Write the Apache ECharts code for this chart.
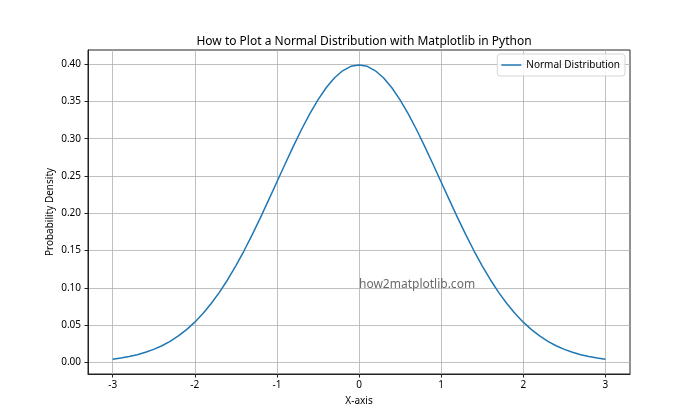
<!DOCTYPE html>
<html>
<head>
<meta charset="utf-8">
<script src="https://cdn.jsdelivr.net/npm/echarts@6/dist/echarts.min.js"></script>
<style>html,body{margin:0;padding:0;background:#fff}#c{width:700px;height:420px}</style>
</head>
<body>
<div id="c"></div>
<script>
var xValues = [-3.0,-2.9,-2.8,-2.7,-2.6,-2.5,-2.4,-2.3,-2.2,-2.1,-2.0,-1.9,-1.8,-1.7,-1.6,-1.5,-1.4,-1.3,-1.2,-1.1,-1.0,-0.9,-0.8,-0.7,-0.6,-0.5,-0.4,-0.3,-0.2,-0.1,0.0,0.1,0.2,0.3,0.4,0.5,0.6,0.7,0.8,0.9,1.0,1.1,1.2,1.3,1.4,1.5,1.6,1.7,1.8,1.9,2.0,2.1,2.2,2.3,2.4,2.5,2.6,2.7,2.8,2.9,3.0];
var densityValues = [0.0044,0.0060,0.0079,0.0104,0.0136,0.0175,0.0224,0.0283,0.0355,0.0440,0.0540,0.0656,0.0790,0.0940,0.1109,0.1295,0.1497,0.1714,0.1942,0.2179,0.2420,0.2661,0.2897,0.3123,0.3332,0.3521,0.3683,0.3814,0.3910,0.3970,0.3989,0.3970,0.3910,0.3814,0.3683,0.3521,0.3332,0.3123,0.2897,0.2661,0.2420,0.2179,0.1942,0.1714,0.1497,0.1295,0.1109,0.0940,0.0790,0.0656,0.0540,0.0440,0.0355,0.0283,0.0224,0.0175,0.0136,0.0104,0.0079,0.0060,0.0044];
var xTicks = [-3,-2,-1,0,1,2,3];
var yTicks = [0,0.05,0.10,0.15,0.20,0.25,0.30,0.35,0.40];
var seriesName = 'Normal Distribution';
var titleText = 'How to Plot a Normal Distribution with Matplotlib in Python';
var xLabel = 'X-axis';
var yLabel = 'Probability Density';
var watermarkText = 'how2matplotlib.com';
var watermarkPos = [0, 0.1];

var FONT = 'Noto Sans';
var chart = echarts.init(document.getElementById('c'), null, {renderer: 'canvas'});
var lineData = xValues.map(function (x, i) { return [x, densityValues[i]]; });

chart.setOption({
  animation: false,
  backgroundColor: '#fff',
  textStyle: {fontFamily: FONT},
  title: {
    text: titleText, left: 359, top: 31, textAlign: 'center',
    textStyle: {fontSize: 12, fontWeight: 'normal', color: '#000', fontFamily: FONT}
  },
  legend: {
    right: 75, top: 54, orient: 'vertical',
    data: [{name: seriesName, icon: 'rect'}],
    itemWidth: 20, itemHeight: 1.5, itemGap: 4,
    padding: [6, 5, 6, 4],
    borderColor: '#d5d5d5', borderWidth: 1, borderRadius: 3,
    backgroundColor: 'rgba(255,255,255,0.8)',
    textStyle: {fontSize: 10, color: '#000', fontFamily: FONT}
  },
  graphic: [{
    type: 'text', x: 50, y: 212, rotation: Math.PI / 2, silent: true,
    style: {text: yLabel, fontSize: 10, fill: '#000', fontFamily: FONT, align: 'center', verticalAlign: 'middle'}
  }],
  grid: {left: 88, top: 50, width: 542, height: 324, show: true, borderColor: '#222', borderWidth: 1, containLabel: false},
  xAxis: {
    type: 'value', min: -3.3, max: 3.3,
    name: xLabel, nameLocation: 'middle', nameGap: 22,
    nameTextStyle: {fontSize: 10, color: '#000', fontFamily: FONT},
    axisLine: {show: true, onZero: false, lineStyle: {color: '#222', width: 1}},
    axisTick: {show: true, inside: false, length: 3.5, customValues: xTicks, lineStyle: {color: '#222'}},
    axisLabel: {customValues: xTicks, margin: 6, fontSize: 10, color: '#000', fontFamily: FONT,
      formatter: function (v) { return String(v); }},
    splitLine: {show: true, lineStyle: {color: '#b0b0b0', width: 0.8}}
  },
  yAxis: {
    type: 'value', min: -0.0155, max: 0.4189,
    axisLine: {show: true, onZero: false, lineStyle: {color: '#222', width: 1}},
    axisTick: {show: true, inside: false, length: 3.5, customValues: yTicks, lineStyle: {color: '#222'}},
    axisLabel: {customValues: yTicks, margin: 7, fontSize: 10, color: '#000', fontFamily: FONT,
      formatter: function (v) { return v.toFixed(2); }},
    splitLine: {show: true, lineStyle: {color: '#b0b0b0', width: 0.8}}
  },
  series: [
    {
      name: seriesName, type: 'line', data: lineData, showSymbol: false, smooth: false,
      lineStyle: {color: '#1f77b4', width: 1.5}, itemStyle: {color: '#1f77b4'}, z: 3
    },
    {
      name: 'watermark', type: 'scatter', data: [watermarkPos], symbolSize: 0,
      silent: true, z: 4,
      label: {show: true, formatter: watermarkText, position: [0, 0], align: 'left', verticalAlign: 'bottom',
        offset: [0, 3], fontSize: 12, color: '#444', fontFamily: FONT}
    }
  ]
});
</script>
</body>
</html>
